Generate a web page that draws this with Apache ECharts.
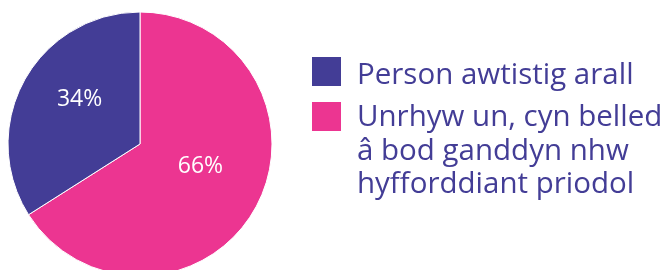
<!DOCTYPE html>
<html>
<head>
<meta charset="utf-8">
<script src="https://cdn.jsdelivr.net/npm/echarts@6/dist/echarts.min.js"></script>
<style>
  html, body { margin: 0; padding: 0; background: #fff; }
  #main { width: 660px; height: 270px; }
</style>
</head>
<body>
<div id="main"></div>
<script type="text/javascript">
  // categories and shares (%)
  var categories = ['Person awtistig arall', 'Unrhyw un, cyn belled'];
  var extraLines = ['â bod ganddyn nhw', 'hyfforddiant priodol'];
  var values = [34, 66];
  var colors = ['#433d96', '#ec3591'];

  var myChart = echarts.init(document.getElementById('main'));

  // pink slice drawn first so it starts at 12 o'clock and runs clockwise
  var pieData = [
    { name: categories[1], value: values[1], itemStyle: { color: colors[1] } },
    { name: categories[0], value: values[0], itemStyle: { color: colors[0] } }
  ];

  var legendFont = '29.5px "Open Sans"';

  var option = {
    animation: false,
    // legend draws the swatches, the wrapped labels sit next to them as text
    legend: {
      orient: 'vertical',
      left: 310,
      top: 55,
      padding: 0,
      itemWidth: 31,
      itemHeight: 31,
      itemGap: 12,
      icon: 'rect',
      selectedMode: false,
      data: [categories[0], categories[1]],
      formatter: function () { return ''; },
      textStyle: { fontSize: 12, lineHeight: 31 }
    },
    graphic: [{
      type: 'text',
      left: 357,
      top: 59,
      style: {
        text: categories[0],
        font: legendFont,
        fill: '#433d96',
        lineHeight: 33.5
      }
    }, {
      type: 'text',
      left: 357,
      top: 101,
      style: {
        text: [categories[1]].concat(extraLines).join('\n'),
        font: legendFont,
        fill: '#433d96',
        lineHeight: 33.5
      }
    }],
    series: [{
      type: 'pie',
      center: [140, 144],
      radius: 132,
      startAngle: 90,
      clockwise: true,
      data: pieData,
      itemStyle: { borderColor: '#fff', borderWidth: 1 },
      label: {
        position: 'inside',
        formatter: '{c}%',
        color: '#fff',
        fontFamily: 'Open Sans',
        fontSize: 23
      },
      labelLayout: { dy: -11 },
      labelLine: { show: false },
      emphasis: { disabled: true }
    }]
  };
  myChart.setOption(option);
</script>
</body>
</html>
